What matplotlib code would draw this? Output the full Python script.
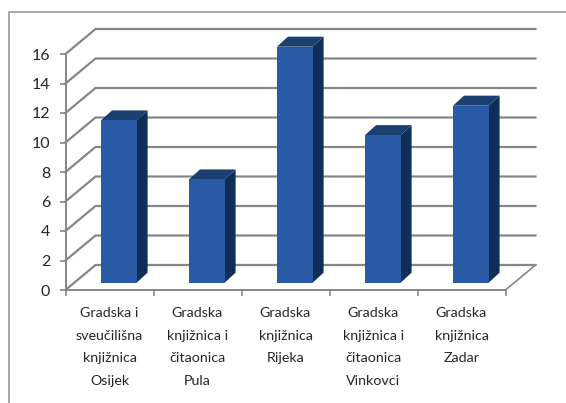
import matplotlib
matplotlib.use("Agg")
import matplotlib.pyplot as plt
from matplotlib.lines import Line2D
from matplotlib.patches import Polygon

plt.rcParams["font.family"] = ["Lato", "DejaVu Sans"]

# Library names and values
categories = [
    "Gradska i\nsveučilišna\nknjižnica\nOsijek",
    "Gradska\nknjižnica i\nčitaonica\nPula",
    "Gradska\nknjižnica\nRijeka",
    "Gradska\nknjižnica i\nčitaonica\nVinkovci",
    "Gradska\nknjižnica\nZadar",
]
values = [11, 7, 16, 10, 12]
y_ticks = [0, 2, 4, 6, 8, 10, 12, 14, 16]

W, H = 566, 403
fig = plt.figure(figsize=(W / 100, H / 100), dpi=100)

# axes box = front of the 3d chart, in pixels
left, right, top, bottom = 65.5, 505.5, 54, 290
ax = fig.add_axes([left / W, 1 - bottom / H, (right - left) / W, (bottom - top) / H])
ax.set_xlim(0, len(values))
ax.set_ylim(0, 16)
ax.patch.set_alpha(0)

GRID = "#868686"
# depth of the walls, in data units
wall_dx = 30 / 88
wall_dy = 25 / 14.75

# gridlines: diagonal on the side wall, then across the back wall
for v in y_ticks:
    ax.plot([0, wall_dx, len(values) + wall_dx], [v, v + wall_dy, v + wall_dy],
            color=GRID, lw=1.6, clip_on=False, zorder=1, solid_joinstyle="miter")
# right edge of the floor
ax.plot([len(values), len(values) + wall_dx], [0, wall_dy], color=GRID, lw=1.2,
        clip_on=False, zorder=1)

# bars drawn as three faces
bar_start = 0.403
bar_w = 0.405
base_dy = 0.495
depth_dx = 0.125
depth_dy = 0.68
for i, v in enumerate(values):
    x0 = i + bar_start
    x1 = x0 + bar_w
    y0 = base_dy
    y1 = base_dy + v
    side = [(x1, y0), (x1 + depth_dx, y0 + depth_dy), (x1 + depth_dx, y1 + depth_dy), (x1, y1)]
    roof = [(x0, y1), (x1, y1), (x1 + depth_dx, y1 + depth_dy), (x0 + depth_dx, y1 + depth_dy)]
    front = [(x0, y0), (x1, y0), (x1, y1), (x0, y1)]
    ax.add_patch(Polygon(side, color="#0f2f58", lw=0, clip_on=False, zorder=3))
    ax.add_patch(Polygon(roof, color="#1b3f6e", lw=0, clip_on=False, zorder=3))
    ax.add_patch(Polygon(front, color="#2a5aa5", lw=0, clip_on=False, zorder=4))

# axes
for s in ["top", "right"]:
    ax.spines[s].set_visible(False)
for s in ["left", "bottom"]:
    ax.spines[s].set_color(GRID)
    ax.spines[s].set_linewidth(1.4)
ax.set_yticks(y_ticks)
ax.set_xticks(range(len(values) + 1))
ax.set_xticklabels([])
ax.set_xticks([i + 0.5 for i in range(len(values))], labels=categories, minor=True)
ax.tick_params(axis="x", which="major", color=GRID, length=4, width=1.2)
ax.tick_params(axis="x", which="minor", length=0, pad=12.5, labelsize=10.3, labelcolor="#262626")
ax.tick_params(axis="y", color=GRID, length=4, width=1.2, pad=7, labelsize=11.5, labelcolor="#262626")
for t in ax.get_xticklabels(minor=True):
    t.set_linespacing(2.05)

# outer border of the pasted chart
fig.add_artist(Line2D([8.5 / W, 8.5 / W, 1], [0, 1 - 12 / H, 1 - 12 / H], color="#a0a0a0", lw=1.3))

fig.savefig("out.png", dpi=100)
